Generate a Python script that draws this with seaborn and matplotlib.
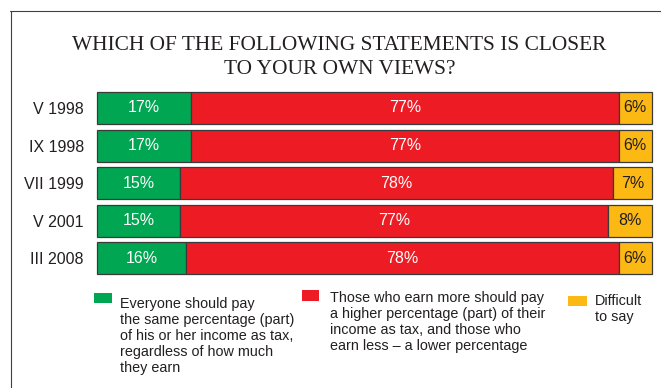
import numpy as np
import pandas as pd
import matplotlib
matplotlib.use("Agg")
import matplotlib.pyplot as plt
import seaborn as sns
from matplotlib.lines import Line2D
from matplotlib.patches import Rectangle

# Survey waves and answer shares (percent)
periods = ["V 1998", "IX 1998", "VII 1999", "V 2001", "III 2008"]
same_share = [17, 17, 15, 15, 16]
progressive = [77, 77, 78, 77, 78]
difficult = [6, 6, 7, 8, 6]

title_lines = ["WHICH OF THE FOLLOWING STATEMENTS IS CLOSER", "TO YOUR OWN VIEWS?"]
legend_texts = [
    ["Everyone should pay", "the same percentage (part)", "of his or her income as tax,",
     "regardless of how much", "they earn"],
    ["Those who earn more should pay", "a higher percentage (part) of their",
     "income as tax, and those who", "earn less \u2013 a lower percentage"],
    ["Difficult", "to say"],
]

colors = ["#00a651", "#ed1c24", "#fdb913"]
value_colors = ["white", "white", "#231f20"]
ink = "#231f20"
edge = "#3a3a3a"

sns.set_theme(style="white")
plt.rcParams["font.family"] = ["Liberation Sans", "DejaVu Sans"]

W, H = 661, 388
fig = plt.figure(figsize=(W / 100, H / 100), dpi=100)
fig.patch.set_facecolor("white")

def fx(px):
    return px / W

def fy(py):
    return 1 - py / H

ax = fig.add_axes([fx(97), fy(277.2), 555 / W, 188 / H])

df = pd.DataFrame({"period": periods, "same": same_share,
                   "prog": progressive, "diff": difficult})

left = np.zeros(len(periods))
for col, color, vcol in zip(["same", "prog", "diff"], colors, value_colors):
    sns.barplot(data=df, x=col, y="period", order=periods, orient="h",
                color=color, saturation=1, errorbar=None, width=0.85,
                left=left, edgecolor=edge, linewidth=0.9, clip_on=False, ax=ax)
    ax.bar_label(ax.containers[-1], labels=[f"{v}%" for v in df[col]],
                 label_type="center", color=vcol, fontsize=11.5)
    left = left + df[col].to_numpy()

ax.set_xlim(0, 100)
ax.set_xlabel("")
ax.set_ylabel("")
ax.set_xticks([])
ax.tick_params(axis="y", length=0, pad=9.4, labelsize=11.5, labelcolor=ink)
for s in ax.spines.values():
    s.set_visible(False)

# Two-line heading
for i, line in enumerate(title_lines):
    fig.text(fx(339.5), fy(50 + 24 * i), line, ha="center", va="baseline",
             family=["Liberation Serif", "DejaVu Serif"], fontsize=15.4, color=ink)

# Frame lines along the top and left
fig.add_artist(Line2D([fx(10), 1], [fy(10.5), fy(10.5)], color="#404040", lw=0.8))
fig.add_artist(Line2D([fx(10.5), fx(10.5)], [0, fy(10.5)], color="#404040", lw=0.8))

# Legend: swatches (x, y, w, h in pixels) and wrapped descriptions
swatches = [(94, 293, 18, 10), (302, 290, 17, 11), (568, 296, 19, 10)]
text_pos = [(120, 308), (330, 302), (595, 305)]
for (sx, sy, sw, sh), (tx, ty), color, lines in zip(swatches, text_pos, colors, legend_texts):
    fig.add_artist(Rectangle((fx(sx), fy(sy + sh)), sw / W, sh / H,
                             transform=fig.transFigure, facecolor=color,
                             edgecolor="none"))
    for j, line in enumerate(lines):
        fig.text(fx(tx), fy(ty + 16 * j), line, ha="left", va="baseline",
                 fontsize=10.4, color=ink)

fig.savefig("out.png", dpi=100)
